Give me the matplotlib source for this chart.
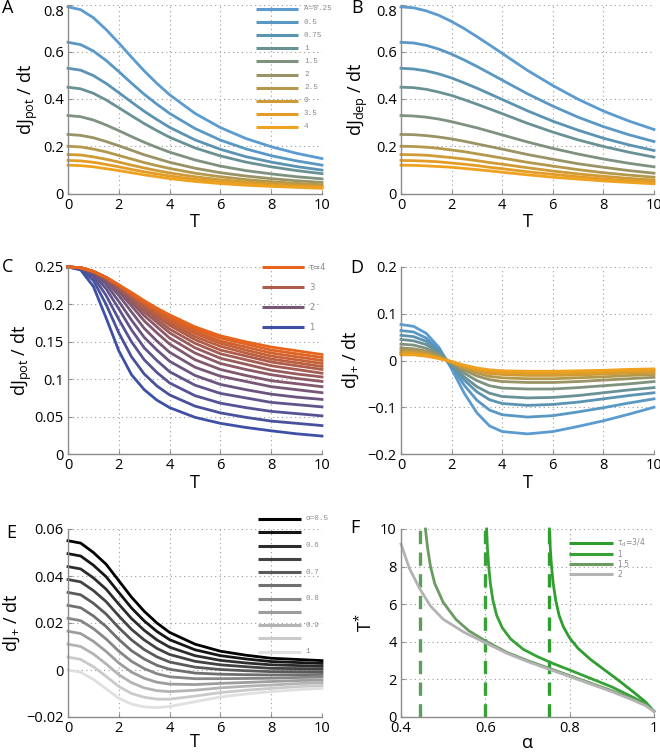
import matplotlib
matplotlib.use("Agg")
import matplotlib.pyplot as plt
from matplotlib.lines import Line2D
import numpy as np

plt.rcParams["font.family"] = ["Open Sans", "DejaVu Sans"]
plt.rcParams["mathtext.default"] = "regular"

W, H = 660, 752

############# DATA ##########################################
T_grid = [0, 0.5, 1, 1.5, 2, 2.5, 3, 3.5, 4, 5, 6, 7, 8, 9, 10]

A_labels = ["A=0.25", "0.5", "0.75", "1", "1.5", "2", "2.5", "3", "3.5", "4"]

# panel A : dJpot/dt for each A
pot_025 = [0.79, 0.778, 0.744, 0.694, 0.637, 0.577, 0.519, 0.466, 0.418, 0.339, 0.279, 0.233, 0.198, 0.170, 0.148]
pot_05 = [0.64, 0.630, 0.603, 0.563, 0.516, 0.467, 0.420, 0.378, 0.339, 0.275, 0.226, 0.189, 0.160, 0.138, 0.120]
pot_075 = [0.53, 0.522, 0.499, 0.466, 0.427, 0.387, 0.348, 0.313, 0.280, 0.227, 0.187, 0.156, 0.133, 0.114, 0.099]
pot_1 = [0.45, 0.443, 0.424, 0.396, 0.363, 0.329, 0.296, 0.266, 0.238, 0.193, 0.159, 0.133, 0.113, 0.097, 0.084]
pot_15 = [0.33, 0.325, 0.311, 0.290, 0.266, 0.241, 0.217, 0.195, 0.175, 0.142, 0.116, 0.097, 0.083, 0.071, 0.062]
pot_2 = [0.25, 0.246, 0.236, 0.220, 0.202, 0.183, 0.164, 0.148, 0.132, 0.107, 0.088, 0.074, 0.063, 0.054, 0.047]
pot_25 = [0.20, 0.197, 0.188, 0.176, 0.161, 0.146, 0.131, 0.118, 0.106, 0.086, 0.071, 0.059, 0.050, 0.043, 0.037]
pot_3 = [0.165, 0.163, 0.155, 0.145, 0.133, 0.120, 0.108, 0.097, 0.087, 0.071, 0.058, 0.049, 0.041, 0.035, 0.031]
pot_35 = [0.14, 0.138, 0.132, 0.123, 0.113, 0.102, 0.092, 0.083, 0.074, 0.060, 0.049, 0.041, 0.035, 0.030, 0.026]
pot_4 = [0.12, 0.118, 0.113, 0.105, 0.097, 0.088, 0.079, 0.071, 0.063, 0.051, 0.042, 0.035, 0.030, 0.026, 0.022]

# panel B : dJdep/dt for each A
dep_025 = [0.79, 0.786, 0.773, 0.754, 0.728, 0.698, 0.664, 0.629, 0.593, 0.521, 0.457, 0.399, 0.349, 0.307, 0.271]
dep_05 = [0.64, 0.637, 0.627, 0.611, 0.590, 0.565, 0.538, 0.509, 0.480, 0.422, 0.370, 0.323, 0.283, 0.249, 0.220]
dep_075 = [0.53, 0.527, 0.519, 0.506, 0.489, 0.468, 0.446, 0.422, 0.398, 0.350, 0.306, 0.268, 0.234, 0.206, 0.182]
dep_1 = [0.45, 0.448, 0.441, 0.429, 0.415, 0.397, 0.378, 0.358, 0.338, 0.297, 0.260, 0.227, 0.199, 0.175, 0.154]
dep_15 = [0.33, 0.328, 0.323, 0.315, 0.304, 0.291, 0.278, 0.263, 0.248, 0.218, 0.191, 0.167, 0.146, 0.128, 0.113]
dep_2 = [0.25, 0.249, 0.245, 0.239, 0.231, 0.221, 0.210, 0.199, 0.188, 0.165, 0.145, 0.126, 0.111, 0.097, 0.086]
dep_25 = [0.20, 0.199, 0.196, 0.191, 0.184, 0.177, 0.168, 0.159, 0.150, 0.132, 0.116, 0.101, 0.088, 0.078, 0.069]
dep_3 = [0.165, 0.164, 0.162, 0.157, 0.152, 0.146, 0.139, 0.131, 0.124, 0.109, 0.095, 0.083, 0.073, 0.064, 0.057]
dep_35 = [0.14, 0.139, 0.137, 0.134, 0.129, 0.124, 0.118, 0.111, 0.105, 0.092, 0.081, 0.071, 0.062, 0.054, 0.048]
dep_4 = [0.12, 0.119, 0.117, 0.114, 0.111, 0.106, 0.101, 0.096, 0.090, 0.079, 0.069, 0.061, 0.053, 0.047, 0.041]

# panel C : dJpot/dt for tau = 1 ... 4
tau_values = [1.0, 1.2, 1.4, 1.6, 1.8, 2.0, 2.2, 2.4, 2.6, 2.8, 3.0, 3.2, 3.4, 3.6, 3.8, 4.0]
tau_curves = [
    [0.25, 0.246, 0.224, 0.182, 0.138, 0.106, 0.086, 0.072, 0.062, 0.049, 0.041, 0.0355, 0.031, 0.027, 0.024],
    [0.25, 0.247, 0.232, 0.200, 0.162, 0.130, 0.107, 0.091, 0.079, 0.064, 0.055, 0.049, 0.044, 0.041, 0.038],
    [0.25, 0.248, 0.237, 0.212, 0.180, 0.150, 0.126, 0.109, 0.095, 0.078, 0.068, 0.062, 0.057, 0.054, 0.051],
    [0.25, 0.248, 0.240, 0.221, 0.194, 0.166, 0.142, 0.125, 0.110, 0.092, 0.081, 0.075, 0.069, 0.066, 0.063],
    [0.25, 0.249, 0.242, 0.227, 0.204, 0.179, 0.156, 0.139, 0.124, 0.105, 0.093, 0.086, 0.080, 0.076, 0.073],
    [0.25, 0.249, 0.243, 0.231, 0.212, 0.190, 0.168, 0.151, 0.136, 0.116, 0.104, 0.097, 0.090, 0.086, 0.082],
    [0.25, 0.249, 0.244, 0.233, 0.217, 0.198, 0.178, 0.162, 0.147, 0.126, 0.113, 0.105, 0.098, 0.094, 0.090],
    [0.25, 0.249, 0.244, 0.234, 0.220, 0.203, 0.185, 0.170, 0.155, 0.135, 0.121, 0.113, 0.106, 0.101, 0.097],
    [0.25, 0.249, 0.244, 0.235, 0.222, 0.207, 0.190, 0.176, 0.162, 0.142, 0.128, 0.120, 0.112, 0.107, 0.103],
    [0.25, 0.249, 0.244, 0.236, 0.224, 0.209, 0.194, 0.180, 0.167, 0.148, 0.134, 0.126, 0.118, 0.113, 0.108],
    [0.25, 0.249, 0.244, 0.236, 0.225, 0.211, 0.197, 0.184, 0.172, 0.153, 0.139, 0.131, 0.123, 0.118, 0.113],
    [0.25, 0.249, 0.244, 0.236, 0.225, 0.212, 0.199, 0.187, 0.175, 0.157, 0.144, 0.135, 0.127, 0.122, 0.117],
    [0.25, 0.249, 0.244, 0.236, 0.226, 0.213, 0.201, 0.189, 0.178, 0.161, 0.148, 0.139, 0.131, 0.126, 0.121],
    [0.25, 0.249, 0.244, 0.236, 0.226, 0.214, 0.202, 0.191, 0.181, 0.164, 0.151, 0.143, 0.135, 0.130, 0.125],
    [0.25, 0.249, 0.244, 0.236, 0.226, 0.215, 0.204, 0.194, 0.184, 0.167, 0.155, 0.147, 0.139, 0.134, 0.129],
    [0.25, 0.249, 0.244, 0.236, 0.226, 0.216, 0.205, 0.195, 0.186, 0.170, 0.158, 0.150, 0.143, 0.138, 0.133],
]
tau_labels = ["\u03c4=4", "3", "2", "1"]

# panel D : dJ+/dt for each A
plus_025 = [0.077, 0.073, 0.058, 0.028, -0.018, -0.070, -0.112, -0.140, -0.152, -0.157, -0.152, -0.141, -0.129, -0.115, -0.100]
plus_05 = [0.064, 0.061, 0.048, 0.023, -0.014, -0.053, -0.085, -0.106, -0.116, -0.121, -0.118, -0.110, -0.101, -0.091, -0.082]
plus_075 = [0.054, 0.051, 0.041, 0.019, -0.011, -0.042, -0.067, -0.084, -0.092, -0.096, -0.094, -0.089, -0.082, -0.075, -0.069]
plus_1 = [0.045, 0.042, 0.034, 0.016, -0.009, -0.035, -0.056, -0.070, -0.077, -0.080, -0.079, -0.075, -0.069, -0.063, -0.058]
plus_15 = [0.035, 0.033, 0.026, 0.012, -0.007, -0.027, -0.043, -0.054, -0.059, -0.061, -0.061, -0.058, -0.054, -0.050, -0.045]
plus_2 = [0.027, 0.025, 0.020, 0.010, -0.005, -0.021, -0.033, -0.041, -0.045, -0.047, -0.047, -0.045, -0.042, -0.039, -0.036]
plus_25 = [0.022, 0.021, 0.017, 0.008, -0.004, -0.017, -0.027, -0.034, -0.037, -0.039, -0.039, -0.037, -0.035, -0.032, -0.030]
plus_3 = [0.018, 0.017, 0.013, 0.006, -0.003, -0.014, -0.022, -0.028, -0.030, -0.032, -0.032, -0.031, -0.029, -0.027, -0.025]
plus_35 = [0.015, 0.014, 0.011, 0.005, -0.003, -0.012, -0.019, -0.024, -0.026, -0.027, -0.027, -0.026, -0.025, -0.023, -0.021]
plus_4 = [0.012, 0.012, 0.009, 0.004, -0.002, -0.010, -0.016, -0.020, -0.022, -0.023, -0.023, -0.022, -0.021, -0.019, -0.018]

# panel E : dJ+/dt for alpha = 0.5 ... 1
alpha_labels = ["\u03b1=0.5", "", "0.6", "", "0.7", "", "0.8", "", "0.9", "", "1"]
alpha_curves = [
    [0.055, 0.054, 0.050, 0.045, 0.038, 0.031, 0.025, 0.020, 0.016, 0.011, 0.008, 0.0063, 0.005, 0.0045, 0.004],
    [0.0495, 0.0485, 0.0446, 0.0397, 0.033, 0.0264, 0.0209, 0.0164, 0.0129, 0.0086, 0.0061, 0.0047, 0.0036, 0.0032, 0.0028],
    [0.044, 0.043, 0.0392, 0.0344, 0.028, 0.0219, 0.0169, 0.0128, 0.0097, 0.0061, 0.0041, 0.003, 0.0022, 0.0019, 0.0016],
    [0.0385, 0.0375, 0.0338, 0.0291, 0.023, 0.0173, 0.0128, 0.0092, 0.0066, 0.0037, 0.0022, 0.0014, 0.0007, 0.0006, 0.0005],
    [0.033, 0.032, 0.0284, 0.0238, 0.018, 0.0128, 0.0087, 0.0056, 0.0034, 0.0012, 0.0002, -0.0003, -0.0007, -0.0007, -0.0007],
    [0.0275, 0.0265, 0.023, 0.0185, 0.013, 0.0082, 0.0047, 0.002, 0.0003, -0.0013, -0.0018, -0.002, -0.0021, -0.002, -0.0019],
    [0.022, 0.021, 0.0176, 0.0132, 0.008, 0.0037, 0.0006, -0.0016, -0.0029, -0.0037, -0.0037, -0.0036, -0.0035, -0.0032, -0.003],
    [0.0165, 0.0155, 0.0122, 0.0079, 0.003, -0.0009, -0.0035, -0.0052, -0.006, -0.0062, -0.0057, -0.0053, -0.0049, -0.0045, -0.0043],
    [0.011, 0.010, 0.0068, 0.0026, -0.002, -0.0054, -0.0076, -0.0088, -0.0092, -0.0086, -0.0076, -0.0069, -0.0064, -0.0058, -0.0054],
    [0.0055, 0.0045, 0.0014, -0.0027, -0.007, -0.010, -0.0116, -0.0124, -0.0124, -0.0111, -0.0096, -0.0086, -0.0078, -0.0071, -0.0066],
    [0.0, -0.001, -0.004, -0.008, -0.012, -0.0145, -0.0157, -0.016, -0.0155, -0.0135, -0.0115, -0.0102, -0.0092, -0.0084, -0.0078],
]

# panel F : T* against alpha for tau_d
F_labels = ["$\\tau_d$=3/4", "1", "1.5", "2"]
F_alpha_34 = [0.752, 0.754, 0.757, 0.761, 0.767, 0.775, 0.785, 0.80, 0.82, 0.85, 0.88, 0.91, 0.95, 0.98, 1.0]
F_T_34 = [10, 9.0, 8.0, 7.1, 6.2, 5.4, 4.8, 4.2, 3.65, 3.05, 2.55, 2.05, 1.35, 0.8, 0.3]
F_alpha_1 = [0.603, 0.605, 0.608, 0.612, 0.618, 0.627, 0.64, 0.66, 0.69, 0.72, 0.76, 0.80, 0.85, 0.90, 0.95, 0.98, 1.0]
F_T_1 = [10, 9.0, 8.0, 7.1, 6.2, 5.4, 4.75, 4.15, 3.6, 3.25, 2.85, 2.5, 2.05, 1.6, 1.05, 0.7, 0.3]
F_alpha_15 = [0.458, 0.463, 0.47, 0.48, 0.50, 0.53, 0.56, 0.60, 0.65, 0.70, 0.75, 0.80, 0.85, 0.90, 0.95, 0.98, 1.0]
F_T_15 = [10, 9.0, 8.0, 7.1, 6.1, 5.2, 4.6, 4.05, 3.45, 3.0, 2.6, 2.2, 1.8, 1.4, 0.95, 0.65, 0.3]
F_alpha_2 = [0.40, 0.42, 0.445, 0.47, 0.50, 0.55, 0.60, 0.65, 0.70, 0.75, 0.80, 0.85, 0.90, 0.95, 0.98, 1.0]
F_T_2 = [9.2, 7.9, 6.8, 5.9, 5.2, 4.5, 3.95, 3.4, 2.95, 2.55, 2.15, 1.75, 1.35, 0.9, 0.6, 0.3]
F_asymptotes = [0.445, 0.60, 0.75]

############# STYLE ##########################################
A_colors = ["#5b9bd0", "#5998c4", "#5b94b2", "#6a9296", "#7f9280",
            "#9a9365", "#b4984c", "#d09b35", "#e39d26", "#efa21f"]
c_blue = np.array([62, 80, 165]) / 255
c_orange = np.array([232, 100, 28]) / 255
tau_colors = [tuple(c_blue + (c_orange - c_blue) * k / 15) for k in range(16)]
gray_levels = np.linspace(0.0, 0.88, 11)
alpha_colors = [(g, g, g) for g in gray_levels]
F_colors = ["#2e9e2e", "#36a236", "#6c9a62", "#b3b3b3"]
F_dash_colors = ["#5e9e58", "#3aa03a", "#2e9e2e"]

fig = plt.figure(figsize=(W / 100, H / 100), dpi=100)


def px_axes(left, top, right, bottom):
    return fig.add_axes([left / W, 1 - bottom / H, (right - left) / W, (bottom - top) / H])


def style_axes(ax, xlim, ylim, xticks, xlabels, yticks, ylabels):
    for s in ["top", "right"]:
        ax.spines[s].set_visible(False)
    for s in ["left", "bottom"]:
        ax.spines[s].set_color("#8c8c8c")
        ax.spines[s].set_linewidth(1.0)
    ax.set_xlim(xlim)
    ax.set_ylim(ylim)
    ax.set_xticks(xticks)
    ax.set_xticklabels(xlabels)
    ax.set_yticks(yticks)
    ax.set_yticklabels(ylabels)
    ax.grid(True, linestyle=(0, (1, 3)), color="#9a9a9a", linewidth=0.8)
    ax.set_axisbelow(True)
    ax.tick_params(direction="in", length=3, color="#8c8c8c", labelsize=10.5, pad=3)
    ax.patch.set_alpha(0)


def fig_text(x, y, s, **kw):
    fig.text(x / W, 1 - y / H, s, **kw)


def ylabel_px(x, y, s):
    fig_text(x, y, s, rotation=90, ha="center", va="center", fontsize=13)


def key(labels, colors, x0, x1, ys, tx, family="Liberation Mono", size=5.5, lw=2.2):
    for lab, c, y in zip(labels, colors, ys):
        fig.add_artist(Line2D([x0 / W, x1 / W], [1 - y / H, 1 - y / H], color=c, lw=lw,
                              transform=fig.transFigure, solid_capstyle="butt"))
        if lab:
            fig_text(tx, y, lab, ha="left", va="center", fontsize=size,
                     family=[family, "DejaVu Sans"], color="#8a8a8a")


T_ticks = [0, 2, 4, 6, 8, 10]
T_ticklabels = ["0", "2", "4", "6", "8", "10"]
row_y = [(4.5, 193.5), (267, 454), (529, 717)]
col_x = [(68, 322), (401, 654)]

# ---------------- A
ax = px_axes(col_x[0][0], row_y[0][0], col_x[0][1], row_y[0][1])
for vals, c in zip([pot_025, pot_05, pot_075, pot_1, pot_15, pot_2, pot_25, pot_3, pot_35, pot_4], A_colors):
    ax.plot(T_grid, vals, color=c, lw=2.0, clip_on=False)
style_axes(ax, (0, 10), (0, 0.8), T_ticks, T_ticklabels,
           [0, 0.2, 0.4, 0.6, 0.8], ["0", "0.2", "0.4", "0.6", "0.8"])
ax.get_yticklabels()[-1].set_va("top")
ylabel_px(28, 99, "dJ$_{pot}$ / dt")
fig_text(195, 222, "T", ha="center", va="center", fontsize=13)
key(A_labels, A_colors, 256, 298, [9 + 13.1 * k for k in range(10)], 304)
fig_text(8, 8, "A", ha="center", va="center", fontsize=13)

# ---------------- B
ax = px_axes(col_x[1][0], row_y[0][0], col_x[1][1], row_y[0][1])
for vals, c in zip([dep_025, dep_05, dep_075, dep_1, dep_15, dep_2, dep_25, dep_3, dep_35, dep_4], A_colors):
    ax.plot(T_grid, vals, color=c, lw=2.0, clip_on=False)
style_axes(ax, (0, 10), (0, 0.8), T_ticks, T_ticklabels,
           [0, 0.2, 0.4, 0.6, 0.8], ["0", "0.2", "0.4", "0.6", "0.8"])
ax.get_yticklabels()[-1].set_va("top")
ylabel_px(358, 99, "dJ$_{dep}$ / dt")
fig_text(528, 222, "T", ha="center", va="center", fontsize=13)
fig_text(357, 8, "B", ha="center", va="center", fontsize=13)

# ---------------- C
ax = px_axes(col_x[0][0], row_y[1][0], col_x[0][1], row_y[1][1])
for vals, c in zip(tau_curves, tau_colors):
    ax.plot(T_grid, vals, color=c, lw=2.0, clip_on=False)
style_axes(ax, (0, 10), (0, 0.25), T_ticks, T_ticklabels,
           [0, 0.05, 0.1, 0.15, 0.2, 0.25], ["0", "0.05", "0.1", "0.15", "0.2", "0.25"])
ylabel_px(22, 360, "dJ$_{pot}$ / dt")
fig_text(195, 483, "T", ha="center", va="center", fontsize=13)
key(tau_labels, [tau_colors[15], tau_colors[10], tau_colors[5], tau_colors[0]],
    262, 304, [267, 287, 307, 327], 309, family="DejaVu Sans", size=6)
fig_text(8, 267, "C", ha="center", va="center", fontsize=13)

# ---------------- D
ax = px_axes(col_x[1][0], row_y[1][0], col_x[1][1], row_y[1][1])
for vals, c in zip([plus_025, plus_05, plus_075, plus_1, plus_15, plus_2, plus_25, plus_3, plus_35, plus_4], A_colors):
    ax.plot(T_grid, vals, color=c, lw=2.0, clip_on=False)
style_axes(ax, (0, 10), (-0.2, 0.2), T_ticks, T_ticklabels,
           [-0.2, -0.1, 0, 0.1, 0.2], ["\u22120.2", "\u22120.1", "0", "0.1", "0.2"])
ylabel_px(351, 360, "dJ$_{+}$ / dt")
fig_text(528, 483, "T", ha="center", va="center", fontsize=13)
fig_text(357, 268, "D", ha="center", va="center", fontsize=13)

# ---------------- E
ax = px_axes(col_x[0][0], row_y[2][0], col_x[0][1], row_y[2][1])
for vals, c in zip(alpha_curves, alpha_colors):
    ax.plot(T_grid, vals, color=c, lw=2.0, clip_on=False)
style_axes(ax, (0, 10), (-0.02, 0.06), T_ticks, T_ticklabels,
           [-0.02, 0, 0.02, 0.04, 0.06], ["\u22120.02", "0", "0.02", "0.04", "0.06"])
ylabel_px(12, 623, "dJ$_{+}$ / dt")
fig_text(195, 742, "T", ha="center", va="center", fontsize=13)
key(alpha_labels, alpha_colors, 258, 301, [519 + 13.27 * k for k in range(11)], 305)
fig_text(11, 533, "E", ha="center", va="center", fontsize=13)

# ---------------- F
ax = px_axes(col_x[1][0], row_y[2][0], col_x[1][1], row_y[2][1])
for a in range(len(F_asymptotes)):
    ax.axvline(F_asymptotes[a], color=F_dash_colors[a], lw=2.4, linestyle=(0, (4, 2.5)))
for xs, ys, c in zip([F_alpha_34, F_alpha_1, F_alpha_15, F_alpha_2],
                     [F_T_34, F_T_1, F_T_15, F_T_2], F_colors):
    ax.plot(xs, ys, color=c, lw=2.0, clip_on=False)
style_axes(ax, (0.4, 1.0), (0, 10), [0.4, 0.6, 0.8, 1.0], ["0.4", "0.6", "0.8", "1"],
           [0, 2, 4, 6, 8, 10], ["0", "2", "4", "6", "8", "10"])
ylabel_px(365, 623, "T$^{*}$")
fig_text(528, 743, "\u03b1", ha="center", va="center", fontsize=13)
key(F_labels, F_colors, 569, 613, [542.7, 554.3, 564.3, 574.3], 617, family="DejaVu Sans", size=5.5)
fig_text(355, 528, "F", ha="center", va="center", fontsize=13)

fig.savefig("out.png", dpi=100)
